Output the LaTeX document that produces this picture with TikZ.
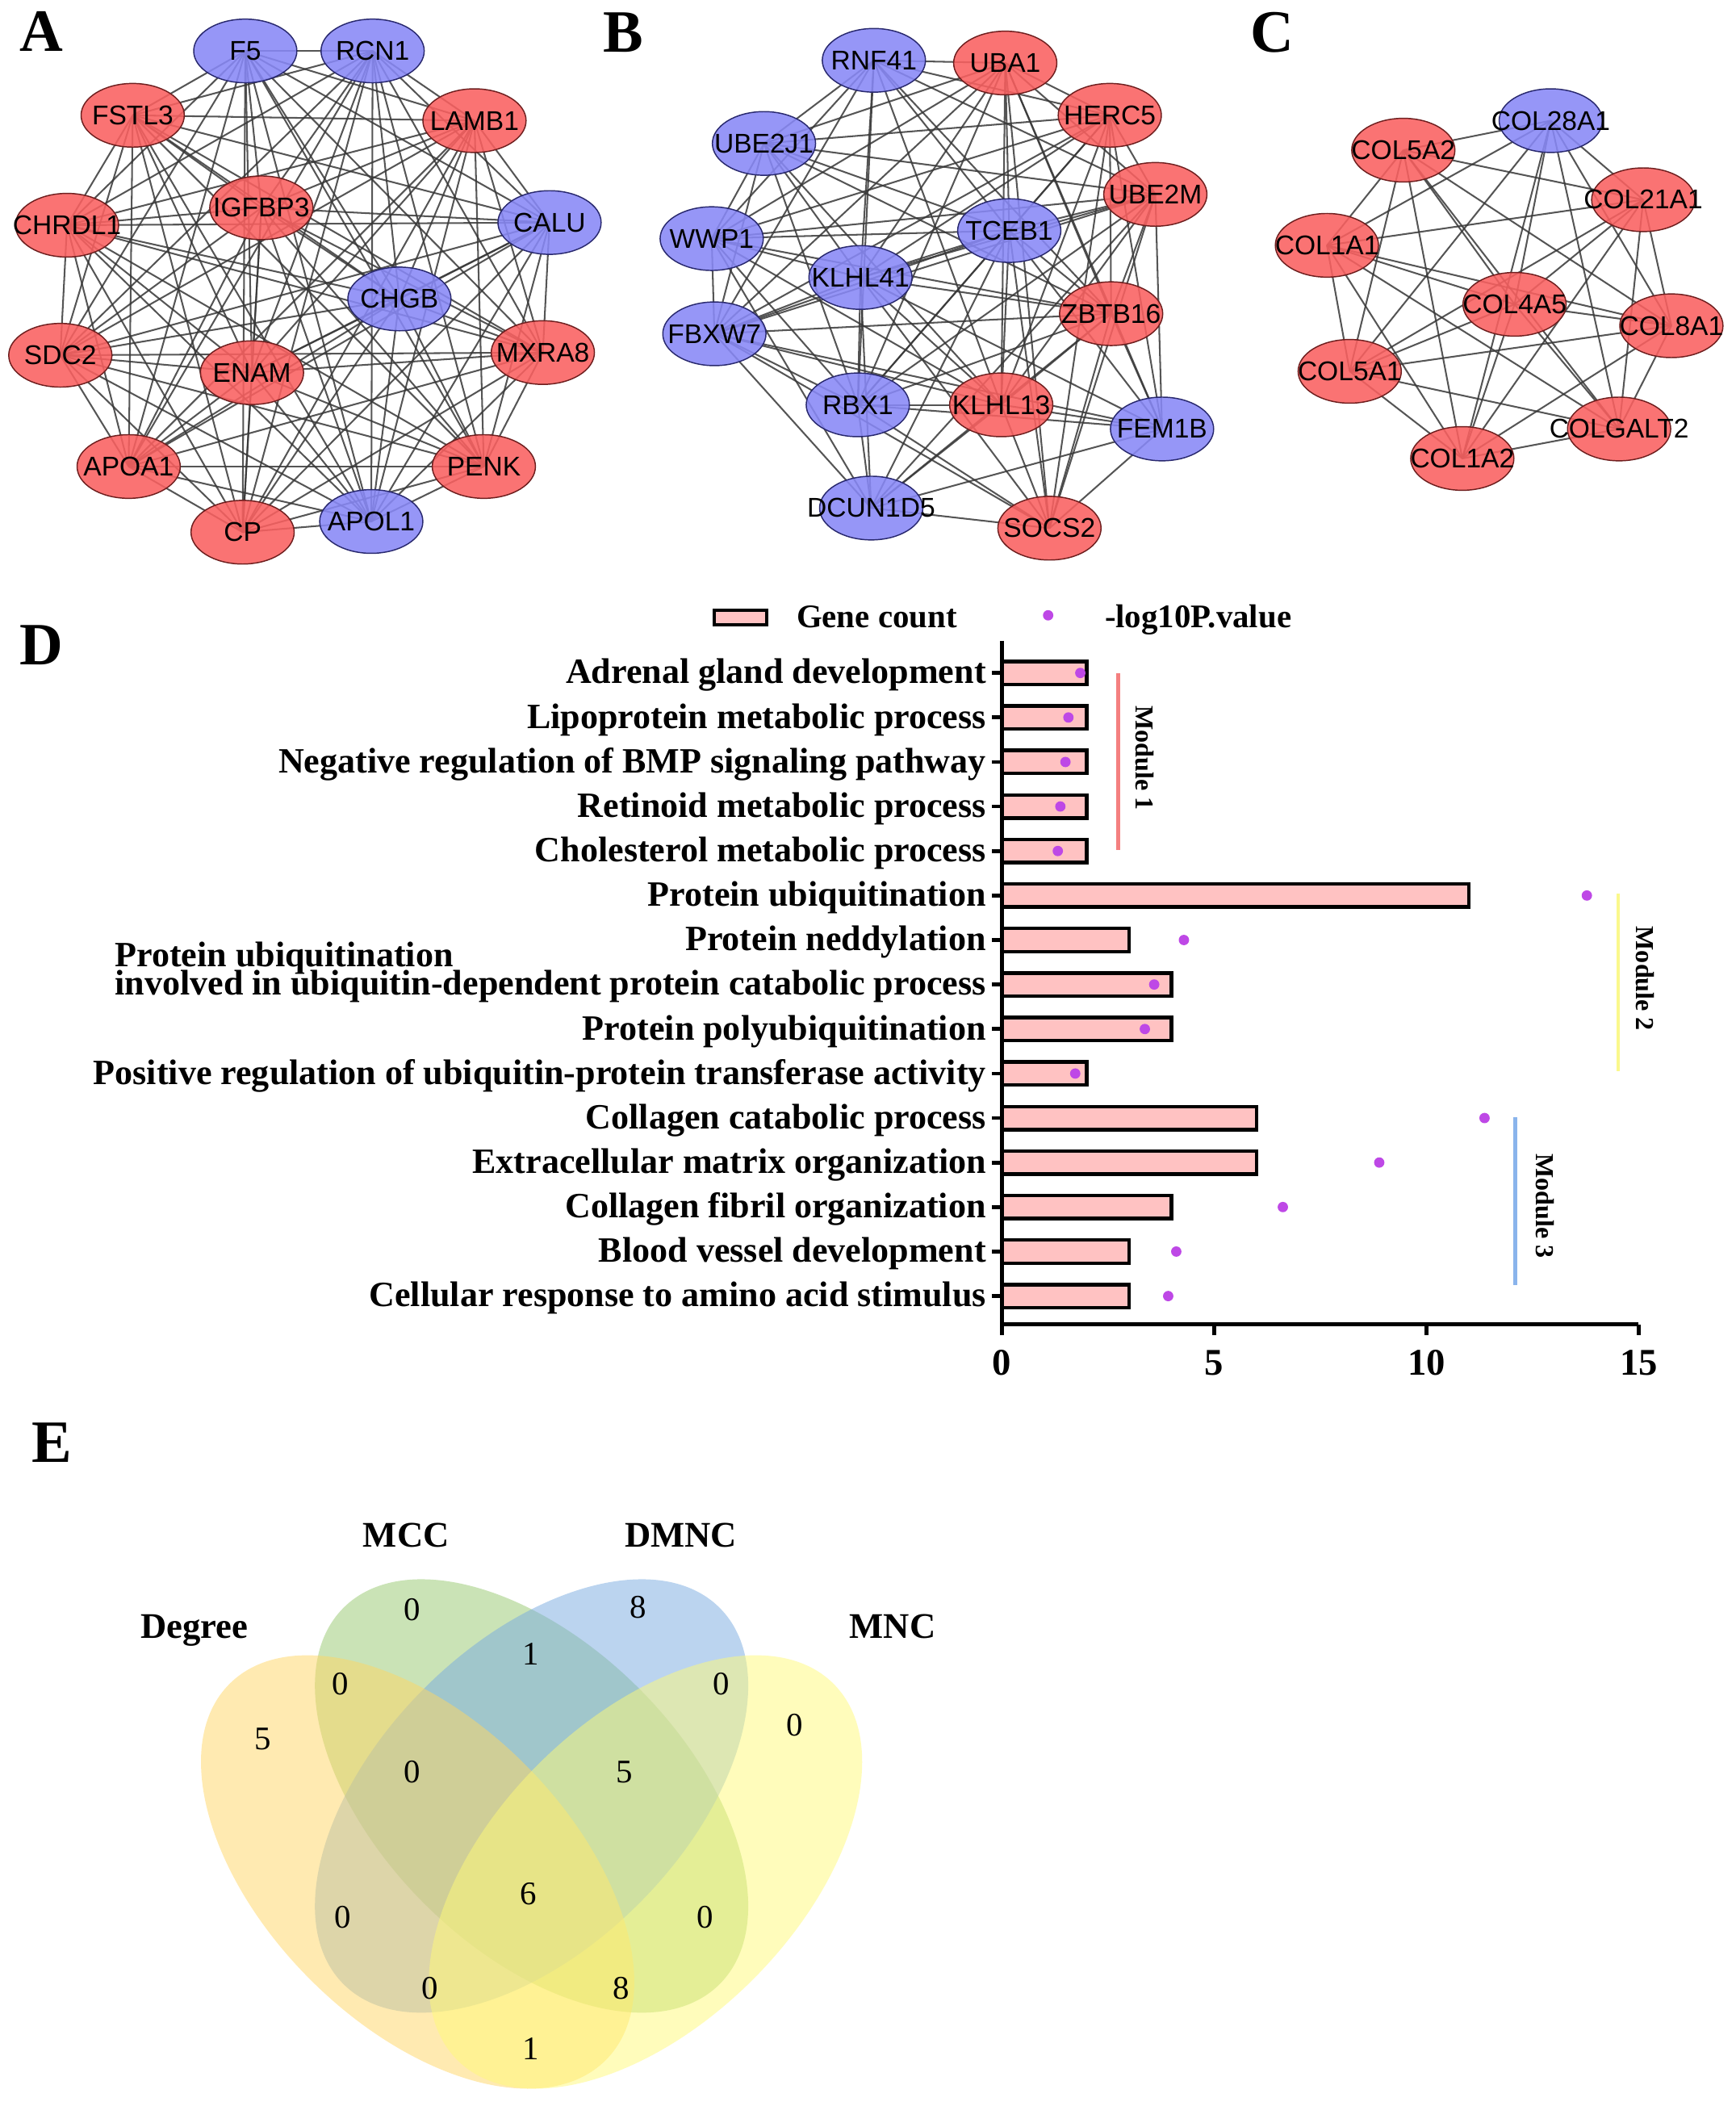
\documentclass[tikz,border=0pt]{standalone}
\usepackage{fontspec}
\setmainfont{Liberation Serif}
\newfontfamily\genefont{Liberation Sans}
\usetikzlibrary{shapes.geometric}
\pgfdeclarelayer{paper}
\pgfdeclarelayer{edges}
\pgfsetlayers{paper,edges,main}

\definecolor{nodered}{RGB}{250,96,96}
\definecolor{nodeblue}{RGB}{136,136,246}
\definecolor{redrim}{RGB}{110,30,30}
\definecolor{bluerim}{RGB}{40,40,110}
\definecolor{barpink}{RGB}{255,194,194}
\definecolor{dotpurple}{RGB}{190,72,230}
\definecolor{modred}{RGB}{244,128,128}
\definecolor{modyellow}{RGB}{250,248,140}
\definecolor{modblue}{RGB}{138,180,236}
\definecolor{vdegree}{RGB}{255,214,100}
\definecolor{vmcc}{RGB}{150,200,110}
\definecolor{vdmnc}{RGB}{120,170,225}
\definecolor{vmnc}{RGB}{255,250,120}

\tikzset{
  gene/.style={ellipse, minimum width=1.54cm, minimum height=0.95cm, inner sep=0pt,
    line width=0.5pt, fill opacity=0.88, label={[genetext]center:#1}},
  genetext/.style={font=\genefont\fontsize{11.5}{13}\selectfont, text=black, text opacity=1, inner sep=0pt},
  upgene/.style={fill=nodered, draw=redrim},
  downgene/.style={fill=nodeblue, draw=bluerim},
  link/.style={draw=black!78, line width=0.7pt, opacity=0.85},
  panel/.style={font=\fontsize{25.5}{28}\selectfont\bfseries, anchor=base, inner sep=0pt},
  golabel/.style={font=\fontsize{15.1}{17}\selectfont\bfseries, anchor=base east, inner sep=0pt},
  legtext/.style={font=\fontsize{14}{16}\selectfont\bfseries, anchor=base west, inner sep=0pt},
  ticktext/.style={font=\fontsize{16}{18}\selectfont\bfseries, anchor=base, inner sep=0pt},
  modtext/.style={font=\fontsize{11}{13}\selectfont\bfseries, rotate=-90, inner sep=0pt},
  gobar/.style={fill=barpink, draw=black, line width=1.5pt},
  plotaxis/.style={draw=black, line width=1.6pt},
  vset/.style={font=\fontsize{15.3}{17}\selectfont\bfseries, anchor=base, inner sep=0pt},
  vnum/.style={font=\fontsize{14}{16}\selectfont, inner sep=0pt},
  venn/.style={fill opacity=0.5}
}

\def\anodes{f5,rcn1,fstl3,lamb1,igfbp3,chrdl1,calu,chgb,sdc2,enam,mxra8,apoa1,penk,cp,apol1}
\def\bcore{rnf41,uba1,herc5,ube2j1,ube2m,wwp1,tceb1,klhl41,zbtb16,fbxw7,rbx1,klhl13}
\def\cnodes{col28a1,col5a2,col21a1,col1a1,col4a5,col8a1,col5a1,colgalt2,col1a2}

\begin{document}
\begin{tikzpicture}[x=0.02cm, y=-0.02cm]
	\useasboundingbox (0,0) rectangle (1295,1568);
	\begin{pgfonlayer}{paper}
		\fill[white] (0,0) rectangle (1295,1568);
	\end{pgfonlayer}

	\node[panel] (pA) at (31,38.5) {A};
	\node[panel] (pB) at (465,38.6) {B};
	\node[panel] (pC) at (949,39) {C};
	\node[panel] (pD) at (31,496) {D};
	\node[panel] (pE) at (39,1091) {E};

	% network A
	\node[gene=F5, downgene] (f5) at (183,38) {};
	\node[gene=RCN1, downgene] (rcn1) at (278,38) {};
	\node[gene=FSTL3, upgene] (fstl3) at (99,86) {};
	\node[gene=LAMB1, upgene] (lamb1) at (354,90) {};
	\node[gene=IGFBP3, upgene] (igfbp3) at (195,155) {};
	\node[gene=CHRDL1, upgene] (chrdl1) at (50,168) {};
	\node[gene=CALU, downgene] (calu) at (410,166) {};
	\node[gene=CHGB, downgene] (chgb) at (298,223) {};
	\node[gene=SDC2, upgene] (sdc2) at (45,265) {};
	\node[gene=ENAM, upgene] (enam) at (188,278) {};
	\node[gene=MXRA8, upgene] (mxra8) at (405,263) {};
	\node[gene=APOA1, upgene] (apoa1) at (96,348) {};
	\node[gene=PENK, upgene] (penk) at (361,348) {};
	\node[gene=CP, upgene] (cp) at (181,397) {};
	\node[gene=APOL1, downgene] (apol1) at (277,389) {};

	% network B
	\node[gene=RNF41, downgene] (rnf41) at (652,45) {};
	\node[gene=UBA1, upgene] (uba1) at (750,47) {};
	\node[gene=HERC5, upgene] (herc5) at (828,86) {};
	\node[gene=UBE2J1, downgene] (ube2j1) at (570,107) {};
	\node[gene=UBE2M, upgene] (ube2m) at (862,145) {};
	\node[gene=WWP1, downgene] (wwp1) at (531,178) {};
	\node[gene=TCEB1, downgene] (tceb1) at (753,172) {};
	\node[gene=KLHL41, downgene] (klhl41) at (642,207) {};
	\node[gene=ZBTB16, upgene] (zbtb16) at (829,234) {};
	\node[gene=FBXW7, downgene] (fbxw7) at (533,249) {};
	\node[gene=RBX1, downgene] (rbx1) at (640,302) {};
	\node[gene=KLHL13, upgene] (klhl13) at (747,302) {};
	\node[gene=FEM1B, downgene] (fem1b) at (867,320) {};
	\node[gene=DCUN1D5, downgene] (dcun1d5) at (650,379) {};
	\node[gene=SOCS2, upgene] (socs2) at (783,394) {};

	% network C
	\node[gene=COL28A1, downgene] (col28a1) at (1157,90) {};
	\node[gene=COL5A2, upgene] (col5a2) at (1047,112) {};
	\node[gene=COL21A1, upgene] (col21a1) at (1226,149) {};
	\node[gene=COL1A1, upgene] (col1a1) at (990,183) {};
	\node[gene=COL4A5, upgene] (col4a5) at (1130,227) {};
	\node[gene=COL8A1, upgene] (col8a1) at (1247,243) {};
	\node[gene=COL5A1, upgene] (col5a1) at (1007,277) {};
	\node[gene=COLGALT2, upgene] (colgalt2) at (1208,320) {};
	\node[gene=COL1A2, upgene] (col1a2) at (1091,342) {};

	\begin{pgfonlayer}{edges}
		\foreach \a [count=\i] in \anodes {
			\foreach \b [count=\j] in \anodes {
				\ifnum\j>\i \draw[link] (\a.center) -- (\b.center); \fi
			}
		}
		\foreach \a [count=\i] in \bcore {
			\foreach \b [count=\j] in \bcore {
				\ifnum\j>\i \draw[link] (\a.center) -- (\b.center); \fi
			}
		}
		\foreach \a/\b in {fem1b/ube2m, fem1b/zbtb16, fem1b/klhl13, fem1b/rbx1, fem1b/fbxw7,
			fem1b/socs2, fem1b/dcun1d5, fem1b/tceb1, fem1b/klhl41, fem1b/herc5, fem1b/uba1,
			dcun1d5/fbxw7, dcun1d5/rbx1, dcun1d5/klhl41, dcun1d5/tceb1, dcun1d5/klhl13,
			dcun1d5/zbtb16, dcun1d5/ube2m, dcun1d5/socs2, dcun1d5/wwp1,
			socs2/klhl13, socs2/zbtb16, socs2/ube2m, socs2/herc5, socs2/tceb1,
			socs2/klhl41, socs2/rbx1, socs2/fbxw7, socs2/uba1}
			\draw[link] (\a.center) -- (\b.center);
		\foreach \a [count=\i] in \cnodes {
			\foreach \b [count=\j] in \cnodes {
				\ifnum\j>\i \draw[link] (\a.center) -- (\b.center); \fi
			}
		}
	\end{pgfonlayer}

	% panel D
	\draw[gobar, line width=1.3pt] (533,455) rectangle (572,466);
	\node[legtext] (legbar) at (594,468) {Gene count};
	\fill[dotpurple] (782,459) circle[radius=2.2pt];
	\node[legtext] (legdot) at (824,468) {-log10P.value};

	\foreach \v/\p [count=\k] in {2/1.85, 2/1.57, 2/1.50, 2/1.38, 2/1.32, 11/13.78, 3/4.29,
		4/3.59, 4/3.37, 2/1.73, 6/11.37, 6/8.89, 4/6.62, 3/4.11, 3/3.92} {
		\pgfmathsetmacro\ry{502+33.2*(\k-1)}
		\draw[gobar] (747.4,\ry-8.6) rectangle ({747.4+31.68*\v},\ry+8.6);
		\draw[plotaxis] (740,\ry) -- (747.4,\ry);
		\fill[dotpurple] ({747.4+31.68*\p},\ry) circle[radius=2.2pt];
	}
	\foreach \t [count=\k] in {Adrenal gland development, Lipoprotein metabolic process,
		Negative regulation of BMP signaling pathway, Retinoid metabolic process,
		Cholesterol metabolic process, Protein ubiquitination, Protein neddylation,
		involved in ubiquitin-dependent protein catabolic process, Protein polyubiquitination,
		Positive regulation of ubiquitin-protein transferase activity, Collagen catabolic process,
		Extracellular matrix organization, Collagen fibril organization,
		Blood vessel development, Cellular response to amino acid stimulus}
		\node[golabel] (go\k) at (736,{510+33.2*(\k-1)}) {\t};
	\node[golabel, anchor=base west] (go8top) at ([yshift=12pt]go8.base west) {Protein ubiquitination};

	\draw[plotaxis] (747.4,478) -- (747.4,988) -- (1222.6,988);
	\foreach \n [count=\k] in {0,5,10,15} {
		\draw[plotaxis] ({747.4+31.68*\n},988) -- ({747.4+31.68*\n},996);
		\node[ticktext] (tick\k) at ({747.4+31.68*\n},1025.5) {\n};
	}

	\draw[modred, line width=1.7pt] (834.2,502) -- (834.2,634);
	\node[modtext] (mod1) at (854.4,565.5) {Module 1};
	\draw[modyellow, line width=1.7pt] (1207.3,666.4) -- (1207.3,799);
	\node[modtext] (mod2) at (1227.4,730) {Module 2};
	\draw[modblue, line width=1.7pt] (1130.6,833.6) -- (1130.6,958.4);
	\node[modtext] (mod3) at (1152.8,899.5) {Module 3};

	% panel E
	\fill[vmcc, venn, rotate around={-45:(396.6,1339.7)}] (396.6,1339.7) ellipse [x radius=3.97cm, y radius=2.268cm];
	\fill[vdmnc, venn, rotate around={45:(396.6,1339.7)}] (396.6,1339.7) ellipse [x radius=3.97cm, y radius=2.268cm];
	\fill[vdegree, venn, rotate around={-45:(311.6,1396.4)}] (311.6,1396.4) ellipse [x radius=3.97cm, y radius=2.268cm];
	\fill[vmnc, venn, rotate around={45:(481.6,1396.4)}] (481.6,1396.4) ellipse [x radius=3.97cm, y radius=2.268cm];

	\node[vset] (sdeg) at (145,1222) {Degree};
	\node[vset] (smcc) at (303,1154) {MCC};
	\node[vset] (sdmnc) at (508,1154) {DMNC};
	\node[vset] (smnc) at (666,1222) {MNC};

	\foreach \x/\y/\n [count=\k] in {307.5/1201/0, 476/1199/8, 396/1234/1, 254/1256/0,
		538/1256/0, 196/1297/5, 593/1287/0, 307.5/1322/0, 466/1322/5, 394.5/1413/6,
		256/1430/0, 526/1430/0, 321/1483/0, 463.5/1483/8, 396/1528/1}
		\node[vnum] (vn\k) at (\x,\y) {\n};
\end{tikzpicture}
\end{document}
